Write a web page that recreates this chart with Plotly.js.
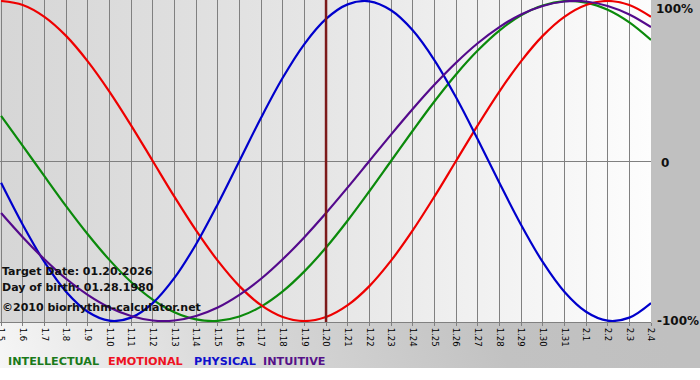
<!DOCTYPE html>
<html><head><meta charset="utf-8">
<script src="https://cdn.plot.ly/plotly-3.0.1.min.js"></script>
<style>html,body{margin:0;padding:0;background:#fff;}#chart{width:700px;height:380px;}</style>
</head><body><div id="chart"></div>
<script>
const dayLabels = ['1.5','1.6','1.7','1.8','1.9','1.10','1.11','1.12','1.13','1.14','1.15','1.16','1.17','1.18','1.19','1.20','1.21','1.22','1.23','1.24','1.25','1.26','1.27','1.28','1.29','1.30','1.31','2.1','2.2','2.3','2.4'];
const intellectual = [0.282,0.095,-0.095,-0.282,-0.458,-0.618,-0.756,-0.866,-0.945,-0.990,-0.999,-0.972,-0.910,-0.815,-0.690,-0.541,-0.372,-0.189,0.000,0.189,0.372,0.541,0.690,0.815,0.910,0.972,0.999,0.990,0.945,0.866,0.756];
const emotional = [1.000,0.975,0.901,0.782,0.623,0.434,0.223,0.000,-0.223,-0.434,-0.623,-0.782,-0.901,-0.975,-1.000,-0.975,-0.901,-0.782,-0.623,-0.434,-0.223,0.000,0.223,0.434,0.623,0.782,0.901,0.975,1.000,0.975,0.901];
const physical = [-0.136,-0.398,-0.631,-0.817,-0.942,-0.998,-0.979,-0.888,-0.731,-0.520,-0.270,0.000,0.270,0.520,0.731,0.888,0.979,0.998,0.942,0.817,0.631,0.398,0.136,-0.136,-0.398,-0.631,-0.817,-0.942,-0.998,-0.979,-0.888];
const intuitive = [-0.325,-0.476,-0.614,-0.736,-0.837,-0.916,-0.969,-0.997,-0.997,-0.969,-0.916,-0.837,-0.736,-0.614,-0.476,-0.325,-0.165,0.000,0.165,0.325,0.476,0.614,0.736,0.837,0.916,0.969,0.997,0.997,0.969,0.916,0.837];
const seriesNames = ['INTELLECTUAL','EMOTIONAL','PHYSICAL','INTUITIVE'];
const yTickLabels = ['100%','0','-100%'];
const targetLabel = '1.20';
const infoLines = ['Target Date: 01.20.2026','Day of birth: 01.28.1980','©2010 biorhythm-calculator.net'];

const colors = ['#0b8a0b','#ee0000','#0000cc','#540a8c'];
const legendColors = ['#1a7a1a','#ee1122','#1010cc','#551188'];
const xIdx = dayLabels.map((_, i) => i);
const seriesData = [intellectual, emotional, physical, intuitive];

const traces = seriesData.map((vals, k) => ({
  type: 'scatter', mode: 'lines', x: xIdx, y: vals, name: seriesNames[k],
  line: {color: colors[k], width: 2.2, shape: 'spline', smoothing: 1},
  hoverinfo: 'skip'
}));

function gradURI(stops, x1, y1, x2, y2, w, h) {
  const s = stops.map(p => `<stop offset='${p[0]}' stop-color='${p[1]}'/>`).join('');
  const svg = `<svg xmlns='http://www.w3.org/2000/svg' width='${w}' height='${h}' viewBox='0 0 ${w} ${h}' preserveAspectRatio='none'><defs><linearGradient id='g' gradientUnits='userSpaceOnUse' x1='${x1}' y1='${y1}' x2='${x2}' y2='${y2}'>${s}</linearGradient></defs><rect width='${w}' height='${h}' fill='url(#g)'/></svg>`;
  return 'data:image/svg+xml;charset=utf-8,' + encodeURIComponent(svg);
}

const W = 700, H = 380, mL = 0, mR = 49, mT = 0, mB = 58;
const pw = W - mL - mR, ph = H - mT - mB;
const targetIdx = dayLabels.indexOf(targetLabel);

const tickFont = {family: 'DejaVu Sans', size: 8.5, color: '#000'};
const boldFont = (sz, c) => ({family: 'DejaVu Sans, Verdana, sans-serif', size: sz, color: c});

const annotations = [];
annotations.push({xref:'paper', yref:'paper', x:1, y:1, xanchor:'left', yanchor:'top', xshift:3, text:'<b>'+yTickLabels[0]+'</b>', showarrow:false, font:boldFont(12,'#111')});
annotations.push({xref:'paper', yref:'y', x:1, y:0, xanchor:'left', yanchor:'middle', xshift:8, yshift:-2, text:'<b>'+yTickLabels[1]+'</b>', showarrow:false, font:boldFont(12,'#111')});
annotations.push({xref:'paper', yref:'y', x:1, y:-1, xanchor:'left', yanchor:'middle', xshift:4, text:'<b>'+yTickLabels[2]+'</b>', showarrow:false, font:boldFont(12,'#111')});
const infoY = [271, 287, 307];
infoLines.forEach((t, i) => annotations.push({xref:'paper', yref:'paper', x:0, y:(ph - infoY[i])/ph, xanchor:'left', yanchor:'middle', xshift:0, text:'<b>'+t+'</b>', showarrow:false, font:boldFont(11,'#111')}));
const legX = [6, 106, 192, 261];
seriesNames.forEach((n, i) => annotations.push({xref:'paper', yref:'paper', x:legX[i]/pw, y:(ph - 361)/ph, xanchor:'left', yanchor:'middle', text:'<b>'+n+'</b>', showarrow:false, font:boldFont(11.2, legendColors[i])}));

const layout = {
  width: W, height: H,
  margin: {l: mL, r: mR, t: mT, b: mB, pad: 0},
  paper_bgcolor: '#ffffff', plot_bgcolor: 'rgba(0,0,0,0)',
  showlegend: false,
  xaxis: {
    range: [-0.05, dayLabels.length - 1], tickmode: 'array', tickvals: xIdx, ticktext: dayLabels,
    tickangle: 90, tickfont: tickFont, showgrid: true, gridcolor: '#808080', gridwidth: 1,
    showline: true, linecolor: '#808080', linewidth: 1, mirror: true, ticklabeloverflow: 'allow',
    ticks: 'outside', ticklen: 3, tickcolor: '#808080', zeroline: false, fixedrange: true, automargin: false
  },
  yaxis: {
    range: [-1.00625, 1.00625], showticklabels: false, showgrid: false, ticks: '',
    zeroline: true, zerolinecolor: '#808080', zerolinewidth: 1, showline: false,
    fixedrange: true, automargin: false
  },
  images: [
    {source: gradURI([[0,'#f6f6f6'],[0.3,'#dcdcdc'],[0.75,'#c2c2c2'],[1,'#c0c0c0']], 0, 368, 600, 150, 700, 368),
     xref:'paper', yref:'paper', x:0, y:1, sizex: W/pw, sizey: 368/ph, xanchor:'left', yanchor:'top', sizing:'stretch', layer:'below'},
    {source: gradURI([[0,'#d6d6d6'],[0.5,'#e6e6e6'],[1,'#fdfdfd']], 0, 0, 651, 0, 651, 322),
     xref:'paper', yref:'paper', x:0, y:1, sizex:1, sizey:1, xanchor:'left', yanchor:'top', sizing:'stretch', layer:'below'}
  ],
  shapes: [
    {type:'line', xref:'x', yref:'paper', x0: targetIdx, x1: targetIdx, y0: 0, y1: 1, line:{color:'#7c1a1a', width:2.5}, layer:'above'}
  ],
  annotations: annotations
};

Plotly.newPlot('chart', traces, layout, {displayModeBar: false, staticPlot: true});
</script>
</body></html>
